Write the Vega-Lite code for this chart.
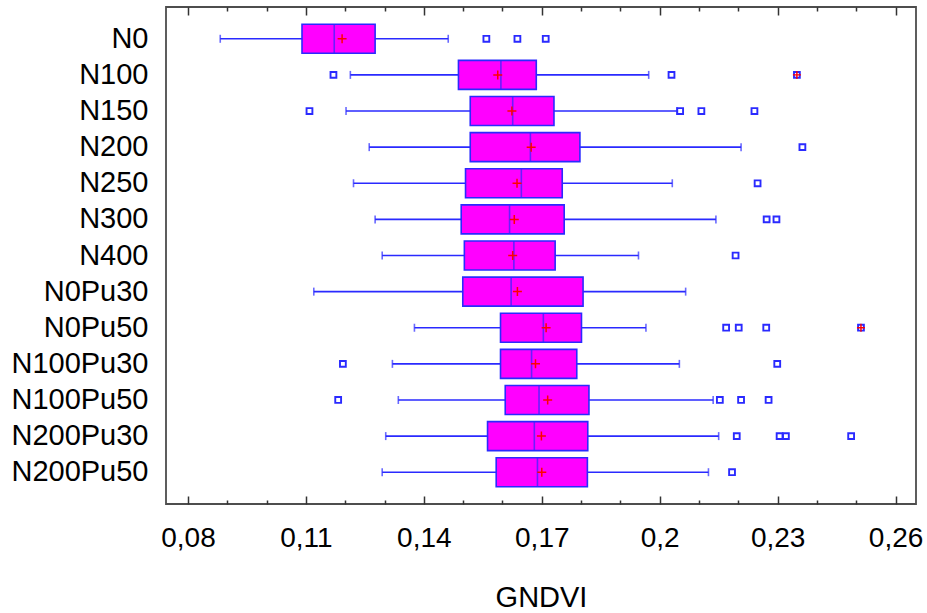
{
  "$schema": "https://vega.github.io/schema/vega-lite/v6.json",
  "width": 750,
  "height": 497,
  "autosize": {"type": "none"},
  "padding": {"left": 166, "top": 7, "right": 11, "bottom": 109},
  "background": "white",
  "config": {
    "view": {"stroke": "#4d4d4d", "strokeWidth": 1.8},
    "font": "Liberation Sans"
  },
  "datasets": {
    "stats": [
      {"group": "N0", "lo": 0.0882, "q1": 0.1090, "med": 0.1172, "mean": 0.1192, "q3": 0.1276, "hi": 0.1462},
      {"group": "N100", "lo": 0.1213, "q1": 0.1488, "med": 0.1596, "mean": 0.1588, "q3": 0.1686, "hi": 0.1972},
      {"group": "N150", "lo": 0.1202, "q1": 0.1518, "med": 0.1626, "mean": 0.1624, "q3": 0.1731, "hi": 0.2044},
      {"group": "N200", "lo": 0.1261, "q1": 0.1518, "med": 0.1671, "mean": 0.1673, "q3": 0.1797, "hi": 0.2207},
      {"group": "N250", "lo": 0.1221, "q1": 0.1506, "med": 0.1648, "mean": 0.1637, "q3": 0.1752, "hi": 0.2032},
      {"group": "N300", "lo": 0.1276, "q1": 0.1495, "med": 0.1618, "mean": 0.1630, "q3": 0.1757, "hi": 0.2143},
      {"group": "N400", "lo": 0.1294, "q1": 0.1503, "med": 0.1629, "mean": 0.1626, "q3": 0.1734, "hi": 0.1946},
      {"group": "N0Pu30", "lo": 0.1120, "q1": 0.1499, "med": 0.1622, "mean": 0.1638, "q3": 0.1805, "hi": 0.2066},
      {"group": "N0Pu50", "lo": 0.1376, "q1": 0.1595, "med": 0.1704, "mean": 0.1711, "q3": 0.1801, "hi": 0.1965},
      {"group": "N100Pu30", "lo": 0.1320, "q1": 0.1595, "med": 0.1674, "mean": 0.1684, "q3": 0.1789, "hi": 0.2050},
      {"group": "N100Pu50", "lo": 0.1335, "q1": 0.1607, "med": 0.1693, "mean": 0.1715, "q3": 0.1820, "hi": 0.2136},
      {"group": "N200Pu30", "lo": 0.1303, "q1": 0.1562, "med": 0.1681, "mean": 0.1699, "q3": 0.1817, "hi": 0.2150},
      {"group": "N200Pu50", "lo": 0.1294, "q1": 0.1584, "med": 0.1689, "mean": 0.1700, "q3": 0.1816, "hi": 0.2124}
    ],
    "outliers": [
      {"group": "N0", "value": 0.1559, "far": false},
      {"group": "N0", "value": 0.1638, "far": false},
      {"group": "N0", "value": 0.1710, "far": false},
      {"group": "N100", "value": 0.1170, "far": false},
      {"group": "N100", "value": 0.2030, "far": false},
      {"group": "N100", "value": 0.2349, "far": true},
      {"group": "N150", "value": 0.1109, "far": false},
      {"group": "N150", "value": 0.2052, "far": false},
      {"group": "N150", "value": 0.2106, "far": false},
      {"group": "N150", "value": 0.2241, "far": false},
      {"group": "N200", "value": 0.2363, "far": false},
      {"group": "N250", "value": 0.2249, "far": false},
      {"group": "N300", "value": 0.2272, "far": false},
      {"group": "N300", "value": 0.2297, "far": false},
      {"group": "N400", "value": 0.2193, "far": false},
      {"group": "N0Pu50", "value": 0.2169, "far": false},
      {"group": "N0Pu50", "value": 0.2201, "far": false},
      {"group": "N0Pu50", "value": 0.2271, "far": false},
      {"group": "N0Pu50", "value": 0.2512, "far": true},
      {"group": "N100Pu30", "value": 0.1194, "far": false},
      {"group": "N100Pu30", "value": 0.2299, "far": false},
      {"group": "N100Pu50", "value": 0.1182, "far": false},
      {"group": "N100Pu50", "value": 0.2153, "far": false},
      {"group": "N100Pu50", "value": 0.2207, "far": false},
      {"group": "N100Pu50", "value": 0.2277, "far": false},
      {"group": "N200Pu30", "value": 0.2196, "far": false},
      {"group": "N200Pu30", "value": 0.2305, "far": false},
      {"group": "N200Pu30", "value": 0.2321, "far": false},
      {"group": "N200Pu30", "value": 0.2487, "far": false},
      {"group": "N200Pu50", "value": 0.2184, "far": false}
    ]
  },
  "encoding": {
    "y": {
      "field": "group",
      "type": "nominal",
      "sort": ["N0", "N100", "N150", "N200", "N250", "N300", "N400", "N0Pu30", "N0Pu50", "N100Pu30", "N100Pu50", "N200Pu30", "N200Pu50"],
      "scale": {"paddingInner": 0, "paddingOuter": 0.38},
      "axis": {
        "title": null,
        "ticks": false,
        "domain": false,
        "grid": false,
        "labelFont": "Liberation Sans",
        "labelFontSize": 29,
        "labelColor": "#000000",
        "labelPadding": 18,
        "labelLimit": 0
      }
    }
  },
  "resolve": {"axis": {"x": "independent"}},
  "layer": [
    {
      "data": {"name": "stats"},
      "mark": {"type": "rule", "color": "#2a2aff", "strokeWidth": 1.6},
      "encoding": {
        "x": {
          "field": "lo",
          "type": "quantitative",
          "scale": {"domain": [0.0744, 0.2652], "nice": false, "zero": false},
          "axis": {
            "orient": "bottom",
            "values": [0.08, 0.11, 0.14, 0.17, 0.2, 0.23, 0.26],
            "labelExpr": "replace(format(datum.value, '.2~f'), '.', ',')",
            "ticks": false,
            "domain": false,
            "grid": false,
            "labelFont": "Liberation Sans",
            "labelFontSize": 28,
            "labelColor": "#000000",
            "labelPadding": 20,
            "labelFlush": false,
            "title": "GNDVI",
            "titleFont": "Liberation Sans",
            "titleFontSize": 29,
            "titleFontWeight": "normal",
            "titleColor": "#000000",
            "titlePadding": 31
          }
        },
        "x2": {"field": "hi"}
      }
    },
    {
      "data": {"name": "stats"},
      "mark": {"type": "tick", "color": "#2a2aff", "thickness": 1.6, "size": 8},
      "encoding": {
        "x": {
          "field": "lo",
          "type": "quantitative",
          "scale": {"domain": [0.0744, 0.2652], "nice": false, "zero": false},
          "axis": {
            "orient": "bottom",
            "values": [0.08, 0.09, 0.1, 0.11, 0.12, 0.13, 0.14, 0.15, 0.16, 0.17, 0.18, 0.19, 0.2, 0.21, 0.22, 0.23, 0.24, 0.25, 0.26],
            "labels": false,
            "domain": false,
            "grid": false,
            "title": null,
            "tickColor": "#333333",
            "tickWidth": 1.5,
            "tickSize": {"condition": {"test": "round(datum.value * 100) % 3 == 2", "value": -8}, "value": -4}
          }
        }
      }
    },
    {
      "data": {"name": "stats"},
      "mark": {"type": "tick", "color": "#2a2aff", "thickness": 1.6, "size": 8},
      "encoding": {
        "x": {
          "field": "hi",
          "type": "quantitative",
          "scale": {"domain": [0.0744, 0.2652], "nice": false, "zero": false},
          "axis": {
            "orient": "top",
            "values": [0.08, 0.09, 0.1, 0.11, 0.12, 0.13, 0.14, 0.15, 0.16, 0.17, 0.18, 0.19, 0.2, 0.21, 0.22, 0.23, 0.24, 0.25, 0.26],
            "labels": false,
            "domain": false,
            "grid": false,
            "title": null,
            "tickColor": "#333333",
            "tickWidth": 1.5,
            "tickSize": {"condition": {"test": "round(datum.value * 100) % 3 == 2", "value": -8}, "value": -4}
          }
        }
      }
    },
    {
      "data": {"name": "stats"},
      "mark": {"type": "bar", "fill": "#ff00ff", "stroke": "#2a2aff", "strokeWidth": 1.6, "size": 29},
      "encoding": {
        "x": {"field": "q1", "type": "quantitative", "axis": null},
        "x2": {"field": "q3"}
      }
    },
    {
      "data": {"name": "stats"},
      "mark": {"type": "tick", "color": "#2a2aff", "thickness": 1.6, "size": 29},
      "encoding": {
        "x": {"field": "med", "type": "quantitative", "axis": null}
      }
    },
    {
      "data": {"name": "stats"},
      "mark": {"type": "point", "shape": "M-1,0H1M0,-1V1", "filled": false, "stroke": "#ff0000", "strokeWidth": 1.5, "size": 81, "opacity": 1},
      "encoding": {
        "x": {"field": "mean", "type": "quantitative", "axis": null}
      }
    },
    {
      "data": {"name": "outliers"},
      "mark": {"type": "point", "shape": "square", "filled": false, "stroke": "#2a2aff", "strokeWidth": 1.9, "size": 34, "opacity": 1},
      "encoding": {
        "x": {"field": "value", "type": "quantitative", "axis": null}
      }
    },
    {
      "data": {"name": "outliers"},
      "transform": [{"filter": "datum.far"}],
      "mark": {"type": "point", "shape": "M-1,0H1M0,-1V1", "filled": false, "stroke": "#ff0000", "strokeWidth": 1.4, "size": 64, "opacity": 1},
      "encoding": {
        "x": {"field": "value", "type": "quantitative", "axis": null}
      }
    }
  ]
}
